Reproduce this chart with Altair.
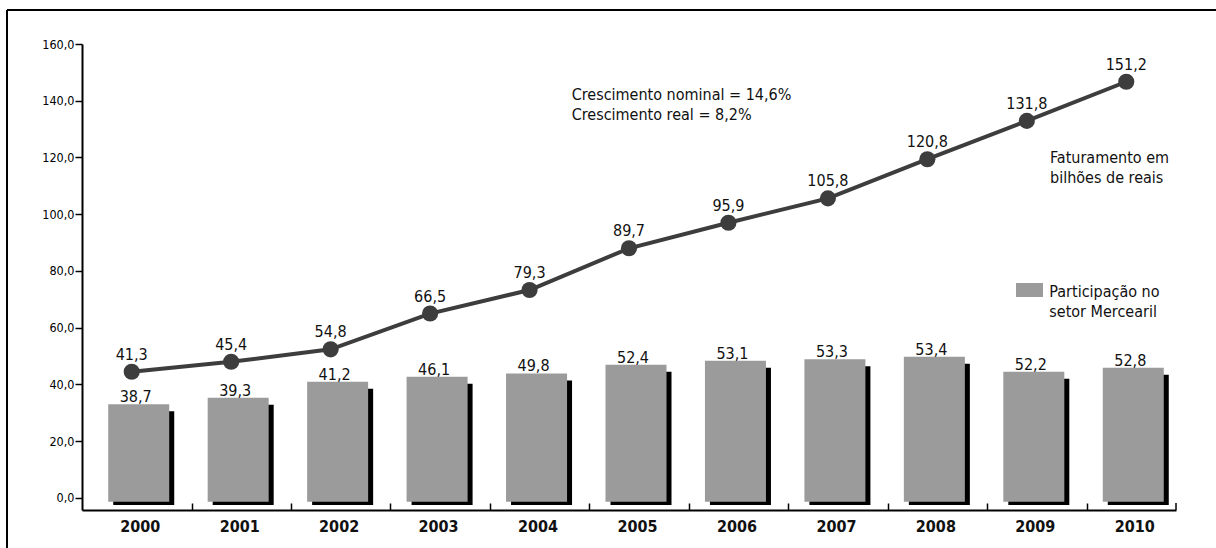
import altair as alt
import pandas as pd

# ---- data ----
years = ["2000", "2001", "2002", "2003", "2004", "2005", "2006", "2007", "2008", "2009", "2010"]
# Faturamento em bilhões de reais (line) – plotted height as drawn, and printed label
fat_values = [44.5, 48.0, 52.4, 65.0, 73.3, 88.0, 97.0, 105.6, 119.4, 132.9, 146.7]
fat_labels = ["41,3", "45,4", "54,8", "66,5", "79,3", "89,7", "95,9", "105,8", "120,8", "131,8", "151,2"]
# Participação no setor Mercearil (bars) – plotted height as drawn, and printed label
part_values = [33.0, 35.3, 41.0, 42.7, 43.9, 47.0, 48.4, 48.9, 49.8, 44.5, 45.9]
part_labels = ["38,7", "39,3", "41,2", "46,1", "49,8", "52,4", "53,1", "53,3", "53,4", "52,2", "52,8"]
y_ticks = [0, 20, 40, 60, 80, 100, 120, 140, 160]

note_growth = ["Crescimento nominal = 14,6%\nCrescimento real = 8,2%"]
note_line = ["Faturamento em\nbilhões de reais"]
note_bars = ["Participação no\nsetor Mercearil"]

FONT = "DejaVu Sans Condensed, DejaVu Sans, sans-serif"
W, H = 1094, 466
BAR_GRAY = "#9b9b9b"
LINE_GRAY = "#3d3d3d"
TXT = "#111111"

df = pd.DataFrame({
    "ano": years,
    "fat": fat_values,
    "fat_lbl": fat_labels,
    "part": part_values,
    "part_lbl": part_labels,
})

xscale = alt.Scale(domain=years, paddingInner=0.3866, paddingOuter=0.1933)
yscale = alt.Scale(domain=[-4.23, 160], nice=False, zero=False)

x_bottom = alt.X("ano:N", scale=xscale, sort=years, title=None,
                 axis=alt.Axis(orient="bottom", domain=False, ticks=False, tickSize=0,
                               labelPadding=8, labelOffset=8.5, labelFontSize=16,
                               labelFontWeight="bold", labelColor=TXT, labelAngle=0,
                               labelFont=FONT, grid=False))
x_top = alt.X("ano:N", scale=xscale, sort=years, title=None,
              axis=alt.Axis(orient="top", offset=-H, labels=False, ticks=True, tickSize=7,
                            tickWidth=1.5, tickColor="black", domain=True,
                            domainColor="black", domainWidth=2, bandPosition=1,
                            tickOffset=29.3, values=years[:-1], grid=False))
x_none = alt.X("ano:N", scale=xscale, sort=years, axis=None)

y_axis_def = alt.Axis(orient="left", values=y_ticks,
                      labelExpr="replace(format(datum.value, '.1f'), '.', ',')",
                      tickSize=7, tickWidth=1.5, tickColor="black", domain=True,
                      domainColor="black", domainWidth=2, labelFontSize=12.5,
                      labelPadding=1, labelColor="#000000", labelFont=FONT, grid=False, title=None)
y_part = alt.Y("part:Q", scale=yscale, axis=y_axis_def, title=None)
y_fat = alt.Y("fat:Q", scale=yscale, axis=y_axis_def, title=None)

base = alt.Chart(df)

shadow = base.mark_bar(color="black", xOffset=12, yOffset=7, y2Offset=7).encode(
    x=x_none, y=y_part, y2=alt.datum(0))
bars = base.mark_bar(color=BAR_GRAY, xOffset=7, y2Offset=3.7).encode(
    x=x_bottom, y=y_part, y2=alt.datum(0))
bar_text = base.mark_text(dx=4, dy=-2, baseline="alphabetic", fontSize=16, color=TXT,
                          font=FONT).encode(x=x_none, y=y_part, text="part_lbl:N")

line = base.mark_line(color=LINE_GRAY, strokeWidth=4).encode(x=x_top, y=y_fat)
dots = base.mark_circle(size=260, color=LINE_GRAY, opacity=1).encode(x=x_none, y=y_fat)
line_text = base.mark_text(dy=-12, baseline="alphabetic", fontSize=16, color=TXT,
                           font=FONT).encode(x=x_none, y=y_fat, text="fat_lbl:N")

one = pd.DataFrame({"k": [0]})
frame_top = alt.Chart(one).mark_rule(color="black", strokeWidth=2).encode(
    x=alt.value(-75), x2=alt.value(W + 40), y=alt.value(-34))
frame_left = alt.Chart(one).mark_rule(color="black", strokeWidth=2).encode(
    x=alt.value(-75), y=alt.value(-34), y2=alt.value(H + 38))
end_tick = alt.Chart(one).mark_rule(color="black", strokeWidth=1.5).encode(
    x=alt.value(W), y=alt.value(H - 7), y2=alt.value(H))

growth = alt.Chart(pd.DataFrame({"t": note_growth})).mark_text(
    align="left", baseline="alphabetic", fontSize=16, lineHeight=20, lineBreak="\n",
    color=TXT, font=FONT).encode(x=alt.value(489.7), y=alt.value(56), text="t:N")
fat_note = alt.Chart(pd.DataFrame({"t": note_line})).mark_text(
    align="left", baseline="alphabetic", fontSize=16, lineHeight=20, lineBreak="\n",
    color=TXT, font=FONT).encode(x=alt.value(968), y=alt.value(119.3), text="t:N")
legend_box = alt.Chart(one).mark_rect(color=BAR_GRAY).encode(
    x=alt.value(934), x2=alt.value(961), y=alt.value(239), y2=alt.value(253))
legend_text = alt.Chart(pd.DataFrame({"t": note_bars})).mark_text(
    align="left", baseline="alphabetic", fontSize=16, lineHeight=20, lineBreak="\n",
    color=TXT, font=FONT).encode(x=alt.value(967.3), y=alt.value(252.7), text="t:N")

chart = alt.layer(
    shadow, bars, bar_text, line, dots, line_text,
    frame_top, frame_left, end_tick, growth, fat_note, legend_box, legend_text,
).resolve_axis(x="independent").properties(
    width=W, height=H,
    autosize=alt.AutoSizeParams(type="none"),
    padding={"left": 82, "top": 44, "right": 40, "bottom": 38},
    background="white",
).configure(font=FONT, view=alt.ViewConfig(stroke=None))

chart.save("out.html", embed_options={"renderer": "svg", "actions": False})
